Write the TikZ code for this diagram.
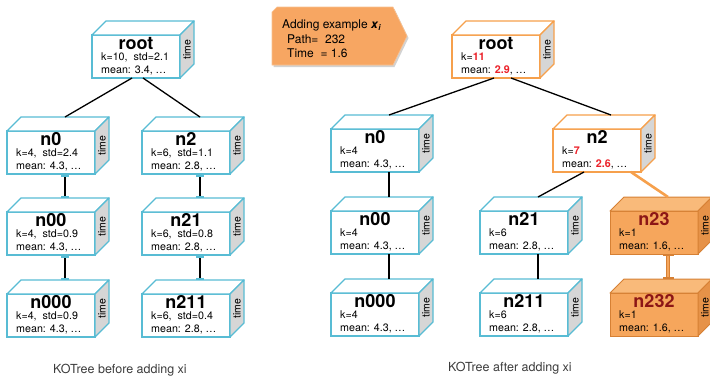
\documentclass[tikz,border=0pt]{standalone}
\usepackage{fontspec}
\setmainfont{TeX Gyre Heros}
\usetikzlibrary{calc,shadows,arrows.meta}

\definecolor{kocyan}{RGB}{88,188,212}
\definecolor{koside}{RGB}{214,214,214}
\definecolor{koline}{RGB}{246,160,76}
\definecolor{kodark}{RGB}{214,128,52}
\definecolor{kofront}{RGB}{246,166,92}
\definecolor{kotop}{RGB}{249,186,122}
\definecolor{koside2}{RGB}{230,146,72}
\definecolor{kored}{RGB}{236,32,40}
\definecolor{kotitle}{RGB}{140,22,22}
\definecolor{kocall}{RGB}{247,166,98}
\definecolor{kocap}{RGB}{60,60,60}

% one 3-d box: name, front top-left x, y, palette, title, two text lines
\newcommand\kobox[7]{%
  \node[#4 front, anchor=north west] (#1) at (#2,#3) {};
  \path[#4 top] (#1.north west) -- ++(14,-14) -- ($(#1.north east)+(14,-14)$) -- (#1.north east) -- cycle;
  \path[#4 side] (#1.north east) -- ++(14,-14) -- ($(#1.south east)+(14,-14)$) -- (#1.south east) -- cycle;
  \coordinate (#1-t) at ($(#1.north)+(14,-14)$);
  \node[titletext] (#1-title) at ($(#1.north)+(0,14)$) {#5};
  \node[bodytext] (#1-k) at ($(#1.north west)+(9,25)$) {#6};
  \node[bodytext] (#1-m) at ($(#1.north west)+(9,38)$) {#7};
  \node[timetext] (#1-time) at ($(#1.east)+(7,-7)$) {time};
}

\begin{document}
\begin{tikzpicture}[x=1pt,y=-1pt,
  boxbase/.style={minimum width=88pt, minimum height=43pt, inner sep=0pt, outer sep=0pt, line width=1.3pt},
  cyan front/.style={boxbase, draw=kocyan, fill=white},
  cyan top/.style={draw=kocyan, fill=white, line width=1.3pt, line join=round},
  cyan side/.style={draw=kocyan, fill=koside, line width=1.3pt, line join=round},
  orange front/.style={boxbase, draw=koline, fill=white},
  orange top/.style={draw=koline, fill=white, line width=1.3pt, line join=round},
  orange side/.style={draw=koline, fill=koside, line width=1.3pt, line join=round},
  filled front/.style={boxbase, draw=kodark, fill=kofront, line width=1pt},
  filled top/.style={draw=kodark, fill=kotop, line width=1pt, line join=round},
  filled side/.style={draw=kodark, fill=koside2, line width=1pt, line join=round},
  titletext/.style={anchor=base, inner sep=0pt, font=\bfseries\fontsize{18}{18}\selectfont},
  bodytext/.style={anchor=base west, inner sep=0pt, font=\fontsize{10.7}{12}\selectfont},
  timetext/.style={rotate=90, inner sep=0pt, font=\fontsize{10.5}{10.5}\selectfont},
  diag/.style={draw=black, line width=1.3pt},
  vconn/.style={draw=black, line width=1.5pt,
    {Bar[width=8pt, line width=2.5pt, color=kocyan]}-{Bar[width=8pt, line width=2.5pt, color=kocyan]}},
  vplain/.style={draw=black, line width=1.8pt},
  oconn/.style={draw=koline, line width=2.6pt},
  caption/.style={anchor=base west, inner sep=0pt, text=kocap, font=\fontsize{12.5}{12.5}\selectfont},
  calltext/.style={anchor=base west, inner sep=0pt, font=\fontsize{12}{12}\selectfont}
]
\useasboundingbox (0,0) rectangle (710,376);
\fill[white] (0,0) rectangle (710,376);

% ---------------- tree before insertion ----------------
\kobox{Lroot}{92}{35}{cyan}{root}{k=10,~ std=2.1}{mean: 3.4, \ldots}
\kobox{Ln0}{7}{131}{cyan}{n0}{k=4,~ std=2.4}{mean: 4.3, \ldots}
\kobox{Ln2}{142}{131}{cyan}{n2}{k=6,~ std=1.1}{mean: 2.8, \ldots}
\kobox{Ln00}{7}{212}{cyan}{n00}{k=4,~ std=0.9}{mean: 4.3, \ldots}
\kobox{Ln21}{142}{212}{cyan}{n21}{k=6,~ std=0.8}{mean: 2.8, \ldots}
\kobox{Ln000}{7}{294}{cyan}{n000}{k=4,~ std=0.9}{mean: 4.3, \ldots}
\kobox{Ln211}{142}{294}{cyan}{n211}{k=6,~ std=0.4}{mean: 2.8, \ldots}

\draw[diag] ($(Lroot.south)+(-4,0)$) -- (Ln0-t);
\draw[diag] ($(Lroot.south)+(7,0)$) -- (Ln2-t);
\draw[vconn] (Ln0.south -| Ln00-t) -- (Ln00-t);
\draw[vconn] (Ln00.south -| Ln000-t) -- (Ln000-t);
\draw[vconn] (Ln2.south -| Ln21-t) -- (Ln21-t);
\draw[vconn] (Ln21.south -| Ln211-t) -- (Ln211-t);

% ---------------- tree after insertion ----------------
\kobox{Rroot}{452}{35}{orange}{root}{k=\textcolor{kored}{\bfseries 11}}{mean: \textcolor{kored}{\bfseries 2.9}, \ldots}
\kobox{Rn0}{331}{129}{cyan}{n0}{k=4}{mean: 4.3, \ldots}
\kobox{Rn2}{553}{129}{orange}{n2}{k=\textcolor{kored}{\bfseries 7}}{mean: \textcolor{kored}{\bfseries 2.6}, \ldots}
\kobox{Rn00}{331}{211}{cyan}{n00}{k=4}{mean: 4.3, \ldots}
\kobox{Rn21}{480}{211}{cyan}{n21}{k=6}{mean: 2.8, \ldots}
\kobox{Rn23}{610}{211}{filled}{\textcolor{kotitle}{n23}}{k=1}{mean: 1.6, \ldots}
\kobox{Rn000}{331}{293}{cyan}{n000}{k=4}{mean: 4.3, \ldots}
\kobox{Rn211}{480}{293}{cyan}{n211}{k=6}{mean: 2.8, \ldots}
\kobox{Rn232}{610}{293}{filled}{\textcolor{kotitle}{n232}}{k=1}{mean: 1.6, \ldots}

\draw[diag] ($(Rroot.south)+(-2,0)$) -- (Rn0-t);
\draw[diag] ($(Rroot.south)+(15,0)$) -- (Rn2-t);
\draw[diag] ($(Rn2.south)+(-13,0)$) -- (Rn21-t);
\draw[oconn] ($(Rn2.south)+(34,0)$) -- (Rn23-t);
\draw[vplain] (Rn0.south -| Rn00-t) -- (Rn00-t);
\draw[vplain] (Rn00.south -| Rn000-t) -- (Rn000-t);
\draw[vplain] (Rn21.south -| Rn211-t) -- (Rn211-t);
\draw[draw=kodark, line width=4.6pt,
  {Bar[width=11pt, line width=2pt]}-{Bar[width=11pt, line width=2pt]}]
  (Rn23.south -| Rn232-t) -- (Rn232-t);
\draw[draw=kofront, line width=2.4pt] ($(Rn23.south -| Rn232-t)+(0,2)$) -- ($(Rn232-t)+(0,-2)$);

% ---------------- call-out ----------------
\path[fill=kocall, draw=kocall!70!white, line width=0.6pt,
  drop shadow={shadow xshift=1.5pt, shadow yshift=-2pt, opacity=0.35}]
  (272,12) -- (277,7) -- (393,7) -- (407,36) -- (393,65) -- (272,65) -- cycle;
\node[calltext] (callA) at (282,28) {Adding example \textbf{\textit{x}}\raisebox{-2.5pt}{\fontsize{8}{8}\selectfont\textbf{\textit{i}}}};
\node[calltext] (callB) at (287,43) {Path=~ 232};
\node[calltext] (callC) at (287,57) {Time~ = 1.6};

% ---------------- captions ----------------
\node[caption] (capL) at (53,373) {KOTree before adding xi};
\node[caption] (capR) at (448,371) {KOTree after adding xi};
\end{tikzpicture}
\end{document}
